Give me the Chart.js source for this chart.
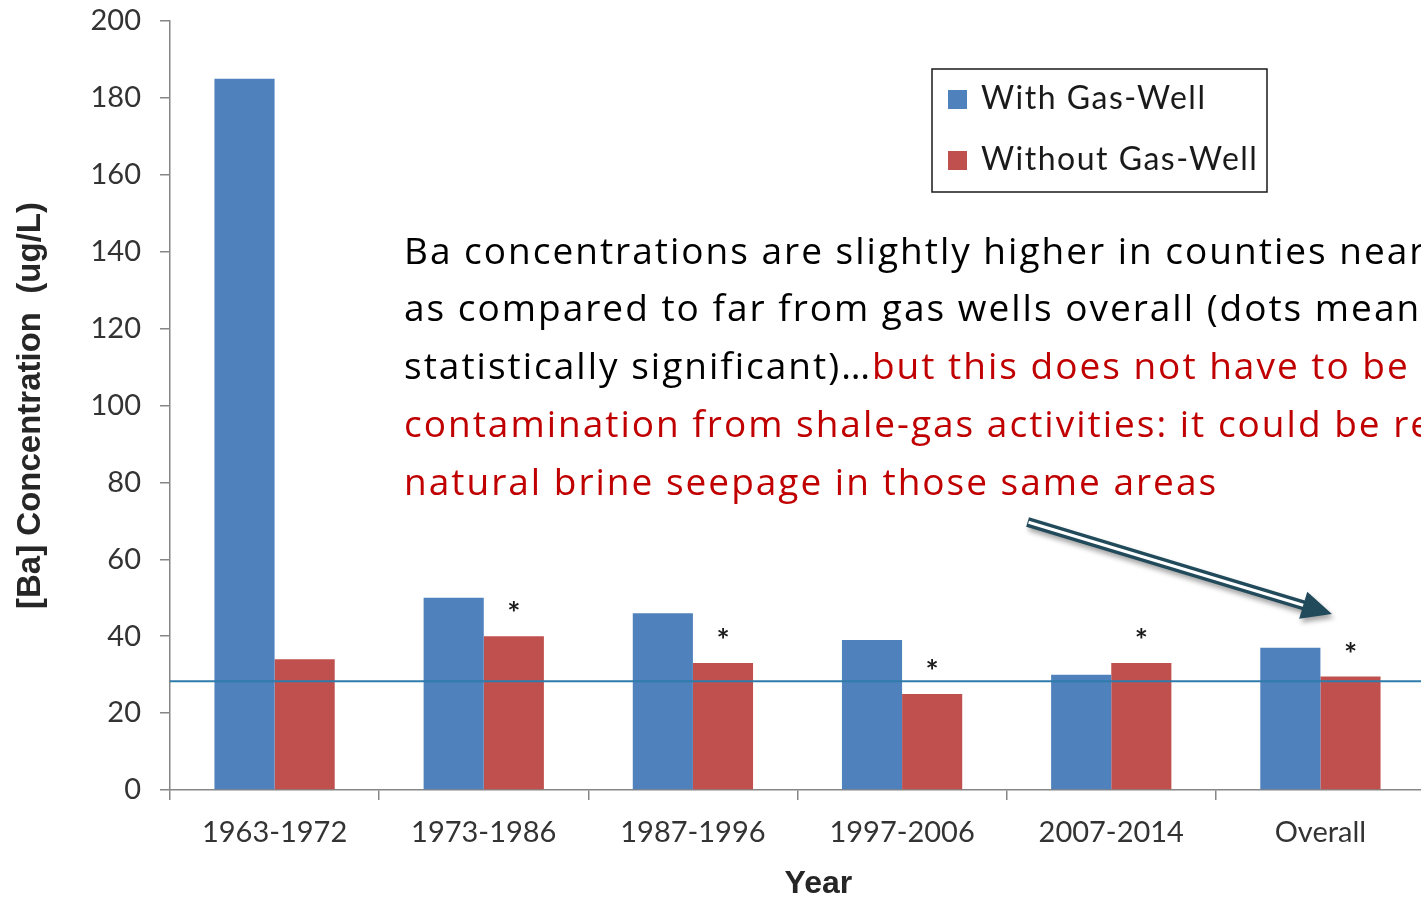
<!DOCTYPE html>
<html>
<head>
<meta charset="utf-8">
<title>[Ba] Concentration by Year</title>
<script src="https://cdn.jsdelivr.net/npm/chart.js@4.4.1/dist/chart.umd.min.js"></script>
<style>
    html, body { margin: 0; padding: 0; background: #ffffff; overflow: hidden; }
    #wrap { width: 1425px; height: 899px; }
</style>
</head>
<body>
<div id="wrap"><canvas id="baChart"></canvas></div>
<script>
// Barium in well water, counties with / without gas wells
var periods = ['1963-1972', '1973-1986', '1987-1996', '1997-2006', '2007-2014', 'Overall'];
var withGasWell = [185, 50, 46, 39, 30, 37];
var withoutGasWell = [34, 40, 33, 25, 33, 29.5];
var significant = [false, true, true, true, true, true];
var referenceLevel = 28.3;

var seriesNames = ['With Gas-Well', 'Without Gas-Well'];
var seriesColors = ['#4f81bd', '#c0504d'];

// note block, each line made of coloured runs
var noteLines = [
    [['Ba concentrations are slightly higher in counties near gas wells', '#000000']],
    [['as compared to far from gas wells overall (dots mean', '#000000']],
    [['statistically significant)\u2026', '#000000'], ['but this does not have to be', '#c00000']],
    [['contamination from shale-gas activities: it could be related to', '#c00000']],
    [['natural brine seepage in those same areas', '#c00000']]
];

var axisGray = '#868686';
var labelGray = '#333333';

var overlayPlugin = {
    id: 'overlay',
    afterDatasetsDraw: function (chart) {
        var ctx = chart.ctx;
        var area = chart.chartArea;
        var xs = chart.scales.x;
        var ys = chart.scales.y;

        ctx.save();

        // reference level across the whole plot
        var ry = ys.getPixelForValue(referenceLevel);
        ctx.strokeStyle = '#2f7bab';
        ctx.lineWidth = 2;
        ctx.beginPath();
        ctx.moveTo(area.left, ry);
        ctx.lineTo(area.right, ry);
        ctx.stroke();

        // asterisks over the significant pairs
        ctx.fillStyle = '#1a1a1a';
        ctx.font = 'bold 31px Lato';
        ctx.textAlign = 'center';
        ctx.textBaseline = 'middle';
        chart.getDatasetMeta(1).data.forEach(function (bar, i) {
            if (significant[i]) {
                ctx.fillText('*', bar.x, bar.y - 22);
            }
        });

        // arrow pointing at the overall pair
        var x0 = xs.getPixelForValue(3.6), y0 = ys.getPixelForValue(69.7);
        var x1 = xs.getPixelForValue(5.055), y1 = ys.getPixelForValue(45.8);
        var ang = Math.atan2(y1 - y0, x1 - x0);
        var headLen = 30, headHalf = 14;
        var bx = x1 - headLen * Math.cos(ang), by = y1 - headLen * Math.sin(ang);
        var arrowColor = '#214a5b';

        ctx.shadowColor = 'rgba(0, 0, 0, 0.35)';
        ctx.shadowBlur = 5;
        ctx.shadowOffsetX = 2;
        ctx.shadowOffsetY = 4;
        ctx.strokeStyle = arrowColor;
        ctx.lineWidth = 10;
        ctx.beginPath();
        ctx.moveTo(x0, y0);
        ctx.lineTo(bx + 2 * Math.cos(ang), by + 2 * Math.sin(ang));
        ctx.stroke();
        ctx.fillStyle = arrowColor;
        ctx.beginPath();
        ctx.moveTo(x1, y1);
        ctx.lineTo(bx + headHalf * Math.sin(ang), by - headHalf * Math.cos(ang));
        ctx.lineTo(bx - headHalf * Math.sin(ang), by + headHalf * Math.cos(ang));
        ctx.closePath();
        ctx.fill();
        ctx.shadowColor = 'transparent';
        ctx.strokeStyle = '#ffffff';
        ctx.lineWidth = 3;
        ctx.beginPath();
        ctx.moveTo(x0 + 1, y0 + 0.3);
        ctx.lineTo(bx, by);
        ctx.stroke();

        // note text
        ctx.font = '37px "Open Sans"';
        ctx.letterSpacing = '2px';
        ctx.textAlign = 'left';
        ctx.textBaseline = 'middle';
        noteLines.forEach(function (runs, li) {
            var tx = area.left + 234;
            var ty = area.top + 232 + li * 57.75;
            runs.forEach(function (run) {
                ctx.fillStyle = run[1];
                ctx.fillText(run[0], tx, ty);
                tx += ctx.measureText(run[0]).width;
            });
        });

        // legend box
        var lx = area.left + 762, ly = area.top + 48;
        ctx.strokeStyle = '#1a1a1a';
        ctx.lineWidth = 1.5;
        ctx.strokeRect(lx, ly, 335, 123);
        ctx.font = '32px Lato';
        ctx.letterSpacing = '1.5px';
        chart.data.datasets.forEach(function (ds, i) {
            var cy = ly + 30 + i * 61;
            ctx.fillStyle = ds.backgroundColor;
            ctx.fillRect(lx + 16, cy - 9, 19, 19);
            ctx.fillStyle = '#1a1a1a';
            ctx.fillText(ds.label, lx + 49, cy);
        });
        ctx.letterSpacing = '0px';

        // x axis title, sits a little right of the plot centre
        ctx.fillStyle = '#262626';
        ctx.font = 'bold 32px "Liberation Sans"';
        ctx.textAlign = 'center';
        ctx.fillText('Year', xs.getPixelForValue(2.6), chart.height - 15);

        ctx.restore();
    }
};

var ctx = document.getElementById('baChart').getContext('2d');
var baChart = new Chart(ctx, {
    type: 'bar',
    data: {
        labels: periods,
        datasets: [{
            label: seriesNames[0],
            data: withGasWell,
            backgroundColor: seriesColors[0]
        }, {
            label: seriesNames[1],
            data: withoutGasWell,
            backgroundColor: seriesColors[1]
        }]
    },
    options: {
        responsive: true,
        maintainAspectRatio: false,
        animation: false,
        layout: { padding: { top: 21, left: 0, right: 0, bottom: 0 } },
        datasets: {
            bar: { categoryPercentage: 0.575, barPercentage: 1.0 }
        },
        plugins: {
            legend: { display: false },
            tooltip: { enabled: false }
        },
        scales: {
            x: {
                afterFit: function (scale) { scale.height = 109; },
                grid: { offset: true, drawOnChartArea: false, drawTicks: true, tickLength: 10, color: axisGray, lineWidth: 1.5 },
                border: { display: true, color: axisGray, width: 1.5 },
                ticks: { color: labelGray, font: { family: 'Lato', size: 29 }, padding: 15, maxRotation: 0 }
            },
            y: {
                min: 0,
                max: 200,
                afterFit: function (scale) {
                    scale.width = 170;
                    scale.paddingTop = 0;
                },
                grid: { drawOnChartArea: false, drawTicks: true, tickLength: 10, color: axisGray, lineWidth: 1.5 },
                border: { display: true, color: axisGray, width: 1.5 },
                ticks: { stepSize: 20, color: labelGray, font: { family: 'Lato', size: 29 }, padding: 19 },
                title: {
                    display: true,
                    text: '[Ba] Concentration  (ug/L)',
                    color: '#262626',
                    font: { family: 'Liberation Sans', size: 33, weight: 'bold', lineHeight: 1.2 },
                    padding: { top: 11, bottom: 0 }
                }
            }
        }
    },
    plugins: [overlayPlugin]
});
</script>
</body>
</html>
